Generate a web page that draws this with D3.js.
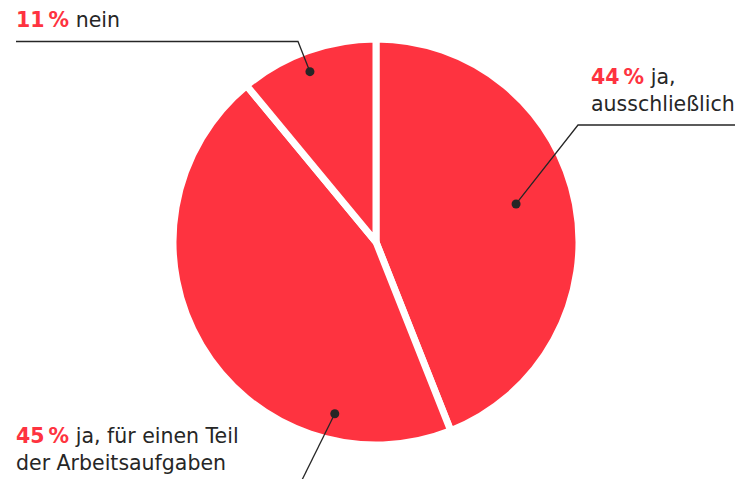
<!DOCTYPE html>
<html>
<head>
<meta charset="utf-8">
<script src="https://cdn.jsdelivr.net/npm/d3@7"></script>
<style>
  html, body { margin: 0; padding: 0; background: #fff; }
  svg { display: block; font-family: "DejaVu Sans", "Noto Sans", sans-serif; }
</style>
</head>
<body>
<svg id="chart" width="735" height="479"></svg>
<script>
// data, in clockwise order from 12 o'clock
const categories = ["ja, ausschließlich", "ja, für einen Teil der Arbeitsaufgaben", "nein"];
const values = [44, 45, 11];
const labelLines = [["ja,", "ausschließlich"], ["ja, für einen Teil", "der Arbeitsaufgaben"], ["nein"]];

const red = "#fe3340";
const ink = "#262626";

const svg = d3.select("#chart");
const cx = 376, cy = 242, radius = 203;

const pie = d3.pie().sort(null).value(d => d)(values);
const arc = d3.arc().innerRadius(0).outerRadius(radius);

const g = svg.append("g").attr("transform", "translate(" + cx + "," + cy + ")");

g.selectAll("path")
    .data(pie)
    .enter()
    .append("path")
    .attr("d", arc)
    .attr("fill", red)
    .attr("stroke", "#fff")
    .attr("stroke-width", 7)
    .attr("stroke-linejoin", "miter");

// label layout: dot (angle in deg from top, fraction of radius), leader polyline, text anchor
const layout = [
    {dot: [74.8, 0.715], path: [[578, 125], [735, 125]], text: [591, 84]},
    {dot: [193.5, 0.87], path: [[301, 482]], text: [16, 443]},
    {dot: [338.8, 0.9], path: [[298, 41.5], [16, 41.5]], text: [16, 27]}
];

layout.forEach(function(l, i){
    let a = l.dot[0] * Math.PI / 180;
    let r = l.dot[1] * radius;
    let dx = cx + r * Math.sin(a), dy = cy - r * Math.cos(a);
    let pts = [[dx, dy]].concat(l.path);
    svg.append("path")
        .attr("d", d3.line()(pts))
        .attr("fill", "none")
        .attr("stroke", ink)
        .attr("stroke-width", 1.3);
    svg.append("circle")
        .attr("cx", dx).attr("cy", dy).attr("r", 4.5)
        .attr("fill", ink);

    let t = svg.append("text")
        .attr("x", l.text[0]).attr("y", l.text[1])
        .attr("font-size", 20.5)
        .attr("fill", ink);
    t.append("tspan")
        .attr("fill", red)
        .attr("font-weight", "bold")
        .text(values[i] + "\u2009%");
    t.append("tspan").text(" " + labelLines[i][0]);
    for(let k = 1; k < labelLines[i].length; k++){
        t.append("tspan")
            .attr("x", l.text[0]).attr("dy", 27)
            .text(labelLines[i][k]);
    }
});
</script>
</body>
</html>
